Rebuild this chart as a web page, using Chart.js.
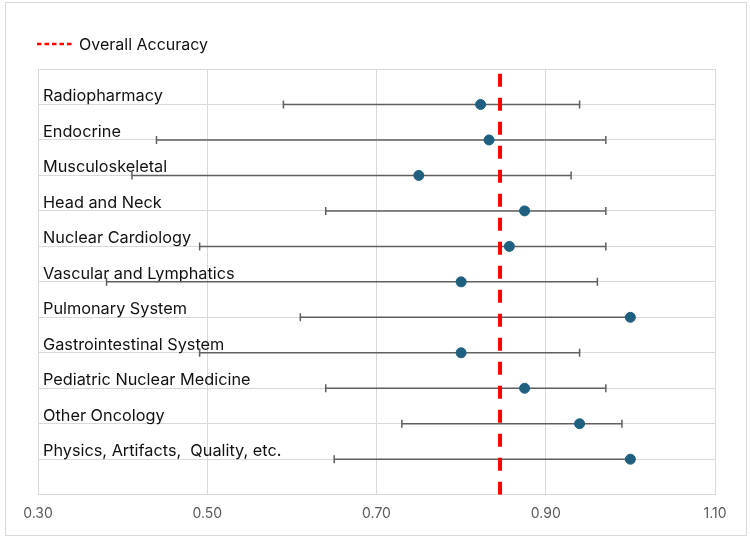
<!DOCTYPE html>
<html>
<head>
<meta charset="utf-8">
<script src="https://cdn.jsdelivr.net/npm/chart.js@4/dist/chart.umd.min.js"></script>
<style>
  html, body { margin: 0; padding: 0; background: #fff; }
  #wrap { width: 750px; height: 539px; position: relative; }
</style>
</head>
<body>
<div id="wrap"><canvas id="forest" width="750" height="539"></canvas></div>
<script>
// data (top row first)
let categories = ["Radiopharmacy", "Endocrine", "Musculoskeletal", "Head and Neck", "Nuclear Cardiology",
    "Vascular and Lymphatics", "Pulmonary System", "Gastrointestinal System", "Pediatric Nuclear Medicine",
    "Other Oncology", "Physics, Artifacts,  Quality, etc."];
let accuracy = [0.823, 0.833, 0.750, 0.875, 0.857, 0.800, 1.000, 0.800, 0.875, 0.940, 1.000];
let lowerCI = [0.590, 0.440, 0.411, 0.640, 0.491, 0.381, 0.610, 0.491, 0.640, 0.730, 0.650];
let upperCI = [0.940, 0.971, 0.930, 0.971, 0.971, 0.961, 1.000, 0.940, 0.971, 0.990, 1.000];
let overallAccuracy = 0.846;
let xTicks = [0.30, 0.50, 0.70, 0.90, 1.10];

// row 11 at the top, row 1 at the bottom
let rowOf = (i) => categories.length - i;

let ctx = document.querySelector("#forest");
let gridColor = "#d9d9d9";
let dotColor = "#1f5f80";
let barColor = "#5f5f5f";
let fontFam = "Inter, 'Noto Sans', sans-serif";

// one small line dataset per row for the error bar
let whiskers = categories.map((c, i) => ({
    type: "line",
    label: c,
    data: [{x: lowerCI[i], y: rowOf(i)}, {x: upperCI[i], y: rowOf(i)}],
    borderColor: barColor,
    borderWidth: 1.5,
    pointStyle: "line",
    rotation: 90,
    pointRadius: 4,
    pointBorderWidth: 1.5,
    pointBorderColor: barColor,
    pointHoverRadius: 4,
    order: 2
}));

// light border round the whole picture + the legend
let frame = {
    id: "frame",
    beforeDraw(chart) {
        let c = chart.ctx;
        c.save();
        c.fillStyle = "#fff";
        c.fillRect(0, 0, chart.width, chart.height);
        c.strokeStyle = gridColor;
        c.lineWidth = 1;
        c.strokeRect(5.5, 2.5, 741, 533);
        c.restore();
    },
    afterDraw(chart) {
        let c = chart.ctx;
        c.save();
        c.strokeStyle = "#ff0000";
        c.lineWidth = 2.5;
        c.setLineDash([4.5, 3]);
        c.beginPath();
        c.moveTo(37, 44);
        c.lineTo(74, 44);
        c.stroke();
        c.setLineDash([]);
        c.fillStyle = "#111";
        c.font = "16px " + fontFam;
        c.textBaseline = "middle";
        c.fillText("Overall Accuracy", 79, 45);
        c.restore();
    }
};

// category names sitting just above each row line
let rowLabels = {
    id: "rowLabels",
    beforeDatasetsDraw(chart) {
        let c = chart.ctx;
        let xs = chart.scales.x, ys = chart.scales.y;
        c.save();
        c.fillStyle = "#111";
        c.font = "16.3px " + fontFam;
        c.textBaseline = "alphabetic";
        categories.forEach((name, i) => {
            c.fillText(name, xs.left + 5, ys.getPixelForValue(rowOf(i)) - 3);
        });
        c.restore();
    }
};

new Chart(ctx, {
    type: "scatter",
    data: {
        datasets: [
            {
                label: "Accuracy",
                data: accuracy.map((v, i) => ({x: v, y: rowOf(i)})),
                backgroundColor: dotColor,
                borderColor: dotColor,
                pointRadius: 5,
                pointHoverRadius: 5,
                order: 0
            },
            {
                type: "line",
                label: "Overall Accuracy",
                data: [{x: overallAccuracy, y: 0}, {x: overallAccuracy, y: 12}],
                borderColor: "#ff0000",
                borderWidth: 4,
                borderDash: [13, 11],
                pointRadius: 0,
                order: 1
            },
            ...whiskers
        ]
    },
    options: {
        responsive: false,
        animation: false,
        layout: {
            padding: {left: 38, right: 35, top: 69, bottom: 5.5}
        },
        plugins: {
            legend: {display: false},
            tooltip: {enabled: false}
        },
        scales: {
            x: {
                type: "linear",
                min: 0.3,
                max: 1.1,
                afterBuildTicks: (axis) => {
                    axis.ticks = xTicks.map(v => ({value: v}));
                },
                ticks: {
                    callback: (v) => Number(v).toFixed(2),
                    color: "#595959",
                    font: {family: fontFam, size: 14},
                    padding: 11,
                    maxRotation: 0
                },
                grid: {color: gridColor, drawTicks: false},
                border: {color: gridColor}
            },
            y: {
                type: "linear",
                min: 0,
                max: 12,
                ticks: {display: false, stepSize: 1},
                grid: {color: gridColor, drawTicks: false},
                border: {color: gridColor}
            }
        }
    },
    plugins: [frame, rowLabels]
});
</script>
</body>
</html>
